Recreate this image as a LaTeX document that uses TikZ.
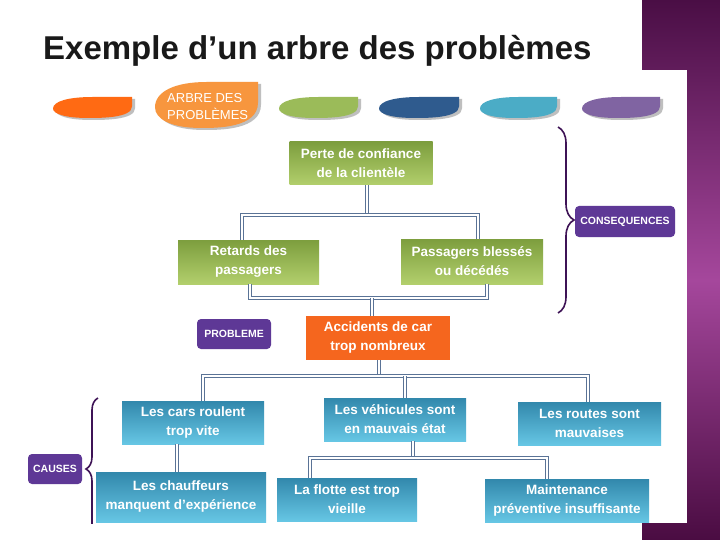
\documentclass[tikz,border=0pt]{standalone}
\usepackage{fontspec}
\setmainfont{Liberation Sans}
\usetikzlibrary{decorations.pathreplacing}

\definecolor{vertfonce}{HTML}{7D9E3E}
\definecolor{vertclair}{HTML}{B2CF6C}
\definecolor{bleufonce}{HTML}{3288AC}
\definecolor{bleuclair}{HTML}{66C6E4}
\definecolor{orangeprob}{HTML}{F5661E}
\definecolor{violetlbl}{HTML}{5E3896}
\definecolor{lienbleu}{HTML}{5A7396}
\definecolor{couleuraccolade}{HTML}{3E1356}
\definecolor{fondhaut}{HTML}{4A0E45}
\definecolor{fondmilieu}{HTML}{A5479C}
\definecolor{fondbas}{HTML}{4A0C42}
\definecolor{tabA}{HTML}{FF6A13}
\definecolor{tabB}{HTML}{F7963E}
\definecolor{tabC}{HTML}{9BBB59}
\definecolor{tabD}{HTML}{2F5B8E}
\definecolor{tabE}{HTML}{4BACC6}
\definecolor{tabF}{HTML}{8064A2}

\tikzset{
    boite/.style={text=white, align=center, inner sep=1pt, minimum width=143pt, minimum height=44pt,
        font=\fontsize{13.5}{19}\selectfont\bfseries},
    vert/.style={boite, top color=vertfonce, bottom color=vertclair},
    bleu/.style={boite, top color=bleufonce, bottom color=bleuclair},
    etiquette/.style={fill=violetlbl, rounded corners=4pt, text=white, inner sep=1pt,
        font=\fontsize{10.5}{12}\selectfont\bfseries},
    lien/.style={draw=lienbleu, line width=0.7pt, double=white, double distance=2.2pt},
    accolade/.style={draw=couleuraccolade, line width=1.6pt, decorate},
    pics/onglet/.style n args={3}{code={
        \fill[black!25, shift={(3,2)}] (#1,0) -- (#1,{0.45*#2}) .. controls (#1,#2) and ({0.6*#1},#2) .. ({0.45*#1},#2)
            .. controls ({0.15*#1},#2) and (0,{0.8*#2}) .. (0,{0.55*#2}) .. controls (0,{0.2*#2}) and ({0.2*#1},0) .. ({0.5*#1},0) -- cycle;
        \fill[#3] (#1,0) -- (#1,{0.45*#2}) .. controls (#1,#2) and ({0.6*#1},#2) .. ({0.45*#1},#2)
            .. controls ({0.15*#1},#2) and (0,{0.8*#2}) .. (0,{0.55*#2}) .. controls (0,{0.2*#2}) and ({0.2*#1},0) .. ({0.5*#1},0) -- cycle;
    }}
}

\begin{document}
\begin{tikzpicture}[x=1pt, y=-1pt]
        \useasboundingbox (0,0) rectangle (720,540);

        %背景
        \fill[white] (0,0) rectangle (720,540);
        \shade[top color=fondhaut, bottom color=fondmilieu] (642,0) rectangle (720,280);
        \shade[top color=fondmilieu, bottom color=fondbas] (642,280) rectangle (720,540);
        \fill[white] (0,70) rectangle (687,523);

        %タイトル
        \node[anchor=base west, inner sep=0, text=black!90, font=\fontsize{33}{40}\selectfont\bfseries]
            (titre) at (43,60) {Exemple d’un arbre des problèmes};

        %タブ
        \foreach \px/\lg/\coul in {53/79/tabA, 279/79/tabC, 379/80/tabD, 480/77/tabE, 582/78/tabF}
            \pic at (\px,97) {onglet={\lg}{21}{\coul}};
        \pic at (155,82) {onglet={103}{46}{tabB}};
        \node[anchor=north west, inner sep=0, align=left, text=white, font=\fontsize{13}{17}\selectfont]
            (arbre) at (167,93) {ARBRE DES\\PROBLÈMES};

        %結果
        \node[vert, minimum height=43pt] (perte) at (361,163.5) {Perte de confiance\\de la clientèle};
        \node[vert, minimum width=141pt] (retards) at (248.5,262) {Retards des\\passagers};
        \node[vert, minimum width=142pt, minimum height=45pt] (blesses) at (472,261.5) {Passagers blessés\\ou décédés};

        %問題
        \node[boite, fill=orangeprob, minimum width=144pt] (accidents) at (378,338) {Accidents de car\\trop nombreux};

        %原因
        \node[bleu, minimum width=142pt, minimum height=43pt] (cars) at (193,422.5) {Les cars roulent\\trop vite};
        \node[bleu, minimum width=142pt, minimum height=43pt] (vehicules) at (395,419.5) {Les véhicules sont\\en mauvais état};
        \node[bleu, minimum height=43pt] (routes) at (589.5,423.5) {Les routes sont\\mauvaises};
        \node[bleu, minimum width=170pt, minimum height=50pt] (chauffeurs) at (181,497) {Les chauffeurs\\manquent d’expérience};
        \node[bleu, minimum width=140pt, minimum height=43pt] (flotte) at (347,499.5) {La flotte est trop\\vieille};
        \node[bleu, minimum width=164pt, minimum height=43pt] (maintenance) at (567,500.5) {Maintenance\\préventive insuffisante};

        %ラベル
        \node[etiquette, minimum width=74pt, minimum height=30pt] (lblprob) at (234,334) {PROBLEME};
        \node[etiquette, minimum width=54pt, minimum height=30pt] (lblcauses) at (55,469) {CAUSES};
        \node[etiquette, minimum width=100pt, minimum height=31pt] (lblcons) at (625,221.5) {CONSEQUENCES};

        %接続線
        \coordinate (j1) at (367,215);
        \coordinate (j2) at (372,298);
        \coordinate (j3) at (379,376);
        \coordinate (v1) at (405,376);
        \coordinate (j4) at (413,458);
        \draw[lien] (perte.south -| j1) -- (j1);
        \draw[lien] ([xshift=-6.5pt]retards.north) |- (j1) -| ([xshift=6pt]blesses.north);
        \draw[lien] ([xshift=1.5pt]retards.south) |- (j2) -| ([xshift=15pt]blesses.south);
        \draw[lien] (j2) -- (j2 |- accidents.north);
        \draw[lien] (accidents.south -| j3) -- (j3);
        \draw[lien] ([xshift=10pt]cars.north) |- (j3) -| ([xshift=-1.5pt]routes.north);
        \draw[lien] (v1) -- (v1 |- vehicules.north);
        \draw[lien] ([xshift=-16pt]cars.south) -- ([xshift=-4pt]chauffeurs.north);
        \draw[lien] (vehicules.south -| j4) -- (j4);
        \draw[lien] ([xshift=-37pt]flotte.north) |- (j4) -| ([xshift=-20pt]maintenance.north);

        %括弧
        \draw[accolade, decoration={brace, amplitude=16pt}] (558,127) -- (558,313);
        \begin{scope}
            \clip (0,70) rectangle (687,523);
            \draw[accolade, decoration={brace, amplitude=12pt}] (98,540) -- (98,398);
        \end{scope}
    \end{tikzpicture}
\end{document}
